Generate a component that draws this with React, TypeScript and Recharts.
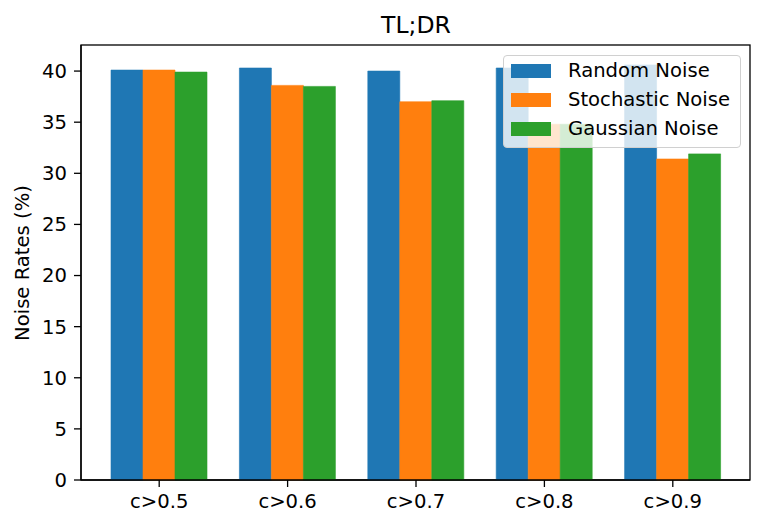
import * as Recharts from 'recharts';
import { BarChart, Bar, XAxis, YAxis } from 'recharts';

const categories = ['c>0.5', 'c>0.6', 'c>0.7', 'c>0.8', 'c>0.9'];
const randomNoise = [40.1, 40.3, 40.0, 40.3, 40.6];
const stochasticNoise = [40.1, 38.6, 37.0, 34.8, 31.4];
const gaussianNoise = [39.9, 38.5, 37.1, 34.8, 31.9];
const yTicks = [0, 5, 10, 15, 20, 25, 30, 35, 40];

const series = [
  { key: 'random', name: 'Random Noise', color: '#1f77b4' },
  { key: 'stochastic', name: 'Stochastic Noise', color: '#ff7f0e' },
  { key: 'gaussian', name: 'Gaussian Noise', color: '#2ca02c' },
];

const data = categories.map((c, i) => ({
  name: c,
  random: randomNoise[i],
  stochastic: stochasticNoise[i],
  gaussian: gaussianNoise[i],
}));

const FONT = '"DejaVu Sans", sans-serif';
const AXIS = { stroke: '#000', strokeWidth: 1.3 };
const FS = 19.6;

// plot area fallback in case the hook is not there
const usePlotArea: any = (Recharts as any).usePlotArea || (() => null);

function Frame() {
  const area = usePlotArea();
  const a = area || { x: 81, y: 45, width: 669, height: 435 };
  return <rect x={a.x} y={a.y} width={a.width} height={a.height} fill="none" stroke="#000" strokeWidth={1.3} />;
}

export default function App() {
  return (
    <div style={{ position: 'absolute', left: 0, top: 0, width: 764, height: 527, fontFamily: FONT }}>
      <BarChart
        width={764}
        height={527}
        data={data}
        margin={{ top: 45, right: 14, bottom: 0, left: 0 }}
        barGap={0}
        barSize={32}
      >
        <text x={416} y={33} textAnchor="middle" fontSize={23.5} fontFamily={FONT} fill="#000">
          TL;DR
        </text>
        <text
          x={29}
          y={263}
          transform="rotate(-90 29 263)"
          textAnchor="middle"
          fontSize={FS}
          fontFamily={FONT}
          fill="#000"
        >
          Noise Rates (%)
        </text>
        <XAxis
          dataKey="name"
          height={47}
          padding={{ left: 14, right: 13 }}
          axisLine={AXIS}
          tickLine={AXIS}
          tickSize={7}
          tickMargin={7}
          tick={{ fill: '#000', fontSize: FS, fontFamily: FONT }}
        />
        <YAxis
          width={81}
          domain={[0, 42.55]}
          ticks={yTicks}
          interval={0}
          axisLine={AXIS}
          tickLine={AXIS}
          tickSize={7}
          tickMargin={7}
          tick={{ fill: '#000', fontSize: FS, fontFamily: FONT }}
        />
        {series.map((s) => (
          <Bar
            key={s.key}
            dataKey={s.key}
            name={s.name}
            fill={s.color}
            stroke={s.color}
            strokeWidth={0.6}
            isAnimationActive={false}
          />
        ))}
        <Frame />
      </BarChart>
      <div
        style={{
          position: 'absolute',
          left: 503,
          top: 55,
          width: 236,
          height: 91,
          border: '1px solid #d0d0d0',
          borderRadius: 4,
          background: 'rgba(255,255,255,0.8)',
          boxSizing: 'content-box',
        }}
      >
        {series.map((s, i) => (
          <div
            key={s.key}
            style={{
              position: 'absolute',
              left: 7,
              top: i * 29,
              height: 29,
              display: 'flex',
              alignItems: 'center',
              fontSize: FS,
              whiteSpace: 'nowrap',
              color: '#000',
            }}
          >
            <span style={{ display: 'inline-block', width: 40, height: 14, background: s.color, marginRight: 17 }} />
            {s.name}
          </div>
        ))}
      </div>
    </div>
  );
}
